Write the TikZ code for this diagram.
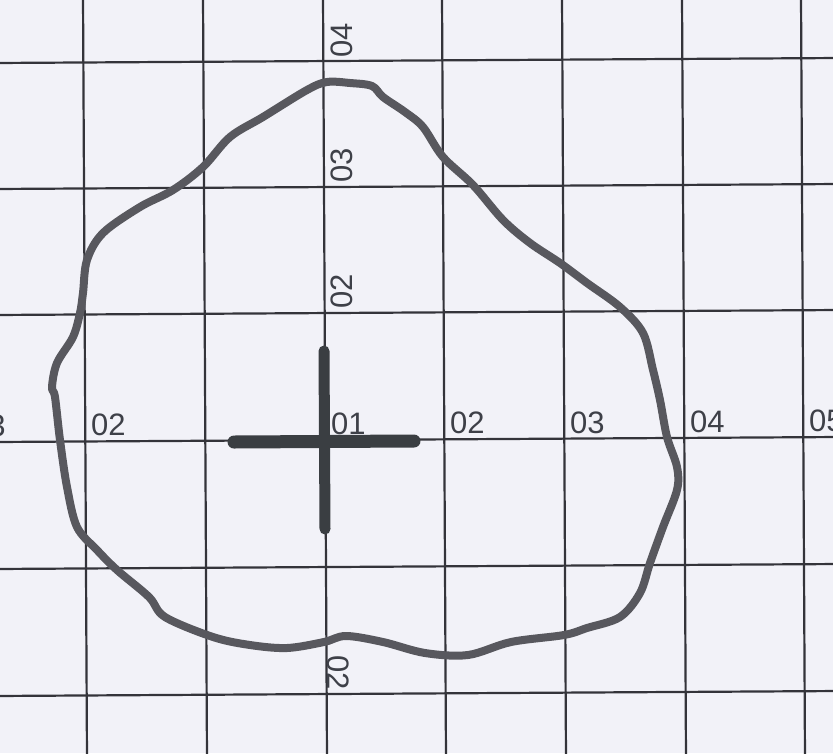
\documentclass[tikz,border=0pt]{standalone}
\usepackage{fontspec}
\setmainfont{Liberation Sans}

\definecolor{paper}{RGB}{242,242,248}
\definecolor{gridline}{RGB}{52,52,58}
\definecolor{inkgray}{RGB}{88,88,94}
\definecolor{crossink}{RGB}{58,62,66}
\definecolor{labelink}{RGB}{62,64,72}

\begin{document}
\begin{tikzpicture}[
        x=1pt, y=-1pt,
        gridrule/.style={draw=gridline, line width=2.2pt},
        tick/.style={inner sep=0pt, text=labelink, font=\fontsize{31}{34}\selectfont},
        outline/.style={draw=inkgray, line width=8pt, line join=round},
        crossbar/.style={draw=crossink, line cap=round}
    ]

    % Paper
    \fill[paper] (0,0) rectangle (833,753);
    \useasboundingbox (0,0) rectangle (833,753);

    % Grid
    \foreach \gx in {83,203,323,442,562,682,801}
        \draw[gridrule] (\gx,-5) -- (\gx+4,760);
    \foreach \gy in {63,189,315,442,569,696}
        \draw[gridrule] (-5,\gy) -- (840,\gy-5);

    % Labels along the horizontal axis
    \foreach \gx/\txt [count=\i] in {-37/03, 83/02, 323/01, 442/02, 562/03, 682/04, 801/05}
        \node[tick, anchor=base west] (hlab\i) at (\gx+8,{436-0.005*\gx}) {\txt};

    % Labels along the vertical axis
    \foreach \gy/\txt [count=\i] in {58/04, 183/03, 309/02}
        \node[tick, anchor=base west, rotate=90] (vlab\i) at (352,\gy) {\txt};
    \node[tick, anchor=base west, rotate=-90] (vlab4) at (327,655) {02};

    % Traced outline
    \draw[outline] plot[smooth cycle, tension=0.55] coordinates {
        (327,82) (350,83) (372,86) (383,97) (405,112) (423,127) (443,157)
        (473,185) (503,220) (530,243) (560,263) (587,283) (620,307) (643,333)
        (653,370) (660,400) (667,437) (677,467) (677,490) (663,527) (650,563)
        (640,593) (620,617) (587,628) (564,635) (511,642) (468,655) (425,653)
        (383,642) (346,636) (324,642) (287,648) (250,645) (213,637) (165,617)
        (149,597) (117,570) (97,550) (77,527) (67,487) (60,440) (55,397)
        (52,387) (57,363) (73,337) (80,313) (83,293) (87,260) (103,233)
        (140,207) (173,190) (203,167) (230,137) (263,117) (307,90)};

    % Centre cross
    \coordinate (crossW) at (234,442);
    \coordinate (crossE) at (414,441);
    \coordinate (crossN) at (324,351);
    \coordinate (crossS) at (325,529);
    \draw[crossbar, line width=13pt] (crossW) -- (crossE);
    \draw[crossbar, line width=11pt] (crossN) -- (crossS);

\end{tikzpicture}
\end{document}
